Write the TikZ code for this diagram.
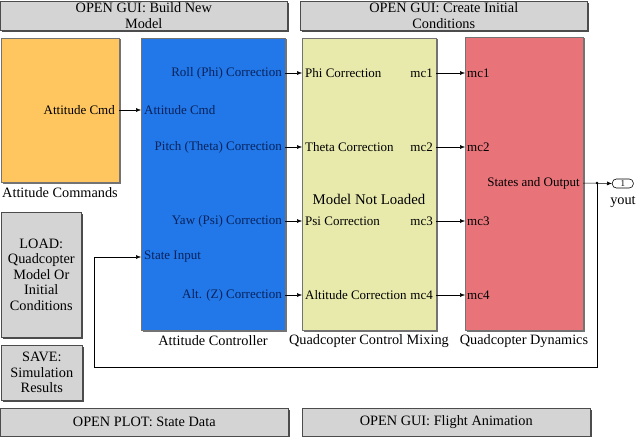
\documentclass[tikz,border=0pt]{standalone}
\usepackage{fontspec}
\setmainfont{Liberation Serif}
\usetikzlibrary{arrows.meta,shadows}
\definecolor{cmdorange}{RGB}{255,198,96}
\definecolor{ctrlblue}{RGB}{34,120,232}
\definecolor{navytext}{RGB}{8,34,92}
\definecolor{mixyellow}{RGB}{232,234,172}
\definecolor{dynred}{RGB}{232,116,122}
\definecolor{btngray}{RGB}{212,212,212}
\tikzset{
  blk/.style={draw=black!55, line width=0.6pt, inner sep=0pt, anchor=north west,
    drop shadow={shadow xshift=1.2pt, shadow yshift=-1.2pt, fill=black!55, opacity=1}},
  btn/.style={draw=black!70, fill=btngray, line width=0.6pt, inner sep=0pt, anchor=north west, align=center,
    font=\fontsize{14.3}{15.5}\selectfont,
    drop shadow={shadow xshift=2pt, shadow yshift=-2pt, fill=black!70, opacity=1}},
  port/.style={font=\fontsize{13}{15}\selectfont, inner sep=0pt},
  ttl/.style={font=\fontsize{14.3}{16}\selectfont, inner sep=0pt},
  sig/.style={line width=0.5pt, -{Latex[length=5pt,width=4pt]}},
  wire/.style={line width=0.5pt},
}
\begin{document}
\begin{tikzpicture}[x=1pt,y=-1pt]
\useasboundingbox (0,0) rectangle (636,436);
% top buttons
\node[btn, minimum width=287pt, minimum height=29pt] (guiBuild) at (0,1) {OPEN GUI: Build New\\Model};
\node[btn, minimum width=287pt, minimum height=29pt] (guiInit) at (300,1) {OPEN GUI: Create Initial\\Conditions};
% side buttons
\node[btn, minimum width=80pt, minimum height=125pt] (load) at (1,212) {LOAD:\\Quadcopter\\Model Or\\Initial\\Conditions};
\node[btn, minimum width=81pt, minimum height=55pt] (save) at (1,345) {SAVE:\\Simulation\\Results};
% bottom buttons
\node[btn, minimum width=288pt, minimum height=28pt] (plotState) at (0,408) {OPEN PLOT: State Data};
\node[btn, minimum width=288pt, minimum height=28pt] (guiAnim) at (302,408) {OPEN GUI: Flight Animation};
% blocks
\node[blk, fill=cmdorange, minimum width=118pt, minimum height=144pt] (cmd) at (1,38) {};
\node[blk, fill=ctrlblue, minimum width=144pt, minimum height=292pt] (ctrl) at (141,38) {};
\node[blk, fill=mixyellow, minimum width=134pt, minimum height=292pt] (mix) at (302,38) {};
\node[blk, fill=dynred, minimum width=118pt, minimum height=293pt] (dyn) at (465,37) {};
% block titles
\node[ttl] (cmdT) at (60,193) {Attitude Commands};
\node[ttl] (ctrlT) at (213,341) {Attitude Controller};
\node[ttl] (mixT) at (369,341) {Quadcopter Control Mixing};
\node[ttl] (dynT) at (524,341) {Quadcopter Dynamics};
\node[font=\fontsize{14.8}{16}\selectfont, inner sep=0pt] (notLoaded) at (369,199) {Model Not Loaded};
% port coordinates
\coordinate (cmdOut) at (119,110);
\coordinate (ctrlIn) at (141,110);
\coordinate (ctrlSt) at (141,257);
\foreach \n/\y in {1/73,2/147,3/221,4/295}{
  \coordinate (ctrlO\n) at (285,\y);
  \coordinate (mixI\n) at (302,\y);
  \coordinate (mixO\n) at (436,\y);
  \coordinate (dynI\n) at (465,\y);
}
\coordinate (dynOut) at (583,183);
\coordinate (branch) at (597,183);
\coordinate (fbA) at (597,367);
\coordinate (fbB) at (94,367);
\coordinate (fbC) at (94,257);
% port labels
\node[port, anchor=east] (lcmd) at (115,110) {Attitude Cmd};
\begin{scope}[navytext]
\node[port, anchor=west] (lci) at (144,110) {Attitude Cmd};
\node[port, anchor=west] (lcs) at (144,257) {State Input};
\node[port, anchor=east] (lc1) at (282,73) {Roll (Phi) Correction};
\node[port, anchor=east] (lc2) at (282,147) {Pitch (Theta) Correction};
\node[port, anchor=east] (lc3) at (282,221) {Yaw (Psi) Correction};
\node[port, anchor=east] (lc4) at (282,295) {Alt. (Z) Correction};
\end{scope}
\node[port, anchor=west] (lm1) at (305,73) {Phi Correction};
\node[port, anchor=west] (lm2) at (305,147) {Theta Correction};
\node[port, anchor=west] (lm3) at (305,221) {Psi Correction};
\node[port, anchor=west] (lm4) at (305,295) {Altitude Correction};
\foreach \n/\y in {1/73,2/147,3/221,4/295}{
  \node[port, anchor=east] (lmo\n) at (433,\y) {mc\n};
  \node[port, anchor=west] (ldi\n) at (467,\y) {mc\n};
}
\node[port, anchor=east] (ldo) at (580,183) {States and Output};
% outport
\node[draw, line width=0.6pt, rounded corners=4pt, minimum width=21pt, minimum height=9pt, inner sep=0pt,
  font=\fontsize{9}{9}\selectfont, anchor=west] (yout) at (612,183.5) {1};
\node[ttl] (youtT) at (623,202) {yout};
% connectors
\draw[sig] (cmdOut) -- (ctrlIn);
\foreach \n in {1,2,3,4}{
  \draw[sig] (ctrlO\n) -- (mixI\n);
  \draw[sig] (mixO\n) -- (dynI\n);
}
\draw[sig] (dynOut) -- (yout.west);
\fill (branch) circle (1.3pt);
\draw[wire] (branch) -- (fbA) -- (fbB) -- (fbC);
\draw[sig] (fbC) -- (ctrlSt);
\end{tikzpicture}
\end{document}
